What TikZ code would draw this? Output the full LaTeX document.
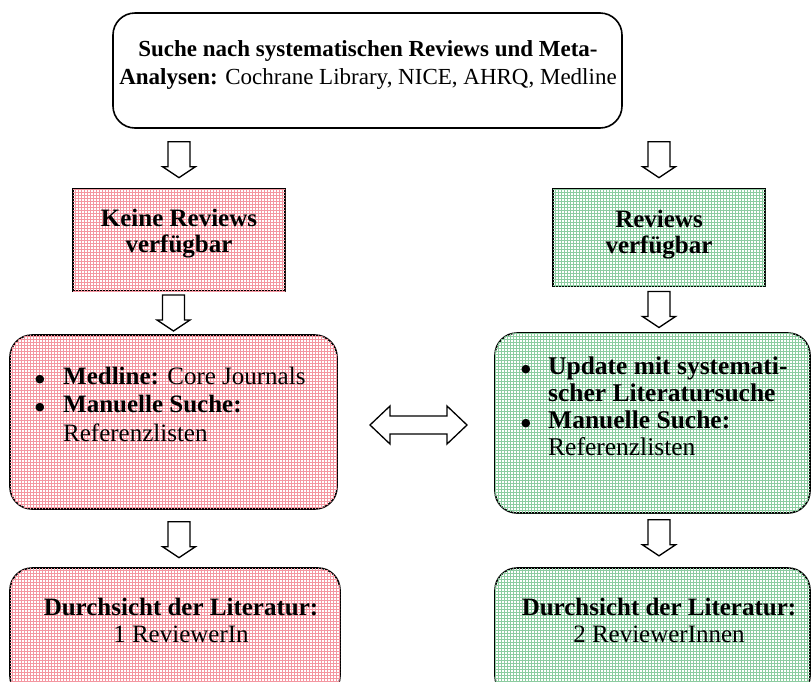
\documentclass[tikz,border=0pt]{standalone}
\usepackage{fontspec}
\setmainfont{Liberation Serif}
\newfontfamily\symfont{DejaVu Sans}
\usetikzlibrary{patterns,calc}

\definecolor{pinkgrid}{RGB}{244,150,160}
\definecolor{greengrid}{RGB}{140,204,160}

% hollow block arrow pointing down, centred on a coordinate
\newcommand\downblock[1]{%
  \draw[arrowline] ($(#1)+(-11,-18)$) -- ($(#1)+(11,-18)$) -- ($(#1)+(11,7)$)
    -- ($(#1)+(16.5,7)$) -- ($(#1)+(0,18)$) -- ($(#1)+(-16.5,7)$)
    -- ($(#1)+(-11,7)$) -- cycle;}
% hollow double-headed block arrow, horizontal
\newcommand\sideblock[1]{%
  \draw[arrowline] ($(#1)+(-48.5,0)$) -- ($(#1)+(-28.5,-19)$) -- ($(#1)+(-28.5,-9)$)
    -- ($(#1)+(28.5,-9)$) -- ($(#1)+(28.5,-19)$) -- ($(#1)+(48.5,0)$)
    -- ($(#1)+(28.5,19)$) -- ($(#1)+(28.5,9)$) -- ($(#1)+(-28.5,9)$)
    -- ($(#1)+(-28.5,19)$) -- cycle;}
% list bullet
\newcommand\bigbullet{\raisebox{2pt}{\symfont\fontsize{11}{11}\selectfont ●}}

\begin{document}
\begin{tikzpicture}[x=1pt,y=-1pt,
  boxline/.style={draw=black, line width=1.6pt, inner sep=0},
  roundbox/.style={boxline, rounded corners=22pt},
  squarebox/.style={boxline},
  redfill/.style={fill=white, postaction={pattern=grid, pattern color=pinkgrid}},
  greenfill/.style={fill=white, postaction={pattern=grid, pattern color=greengrid}},
  arrowline/.style={draw=black, fill=white, line width=1.3pt, line join=miter},
  txt/.style={inner sep=0, align=center, font=\fontsize{23}{28}\selectfont},
  listtxt/.style={inner sep=0, anchor=base west, align=left},
]
\useasboundingbox (0,0) rectangle (812,681);
\clip (0,0) rectangle (812,681);

% boxes
\node[roundbox, fill=white, minimum width=509pt, minimum height=115pt] (top) at (367.5,70.5) {};
\node[squarebox, redfill, minimum width=212pt, minimum height=102pt] (none) at (179,240) {};
\node[squarebox, greenfill, minimum width=212pt, minimum height=97pt] (avail) at (659,237.5) {};
\node[roundbox, redfill, minimum width=327pt, minimum height=174pt] (med) at (173.5,422) {};
\node[roundbox, greenfill, minimum width=315pt, minimum height=180pt] (upd) at (652.5,423) {};
\node[roundbox, redfill, minimum width=330pt, minimum height=130pt] (revone) at (175,633) {};
\node[roundbox, greenfill, minimum width=315pt, minimum height=130pt] (revtwo) at (652.5,633) {};

% texts
\node[txt] (toptext) at (368,65)
  {\textbf{Suche nach systematischen Reviews und Meta-}\\
   \textbf{Analysen:} Cochrane Library, NICE, AHRQ, Medline};
\node[txt, font=\fontsize{25}{26}\selectfont\bfseries] (nonetext) at (179,234)
  {Keine Reviews\\verfügbar};
\node[txt, font=\fontsize{25}{26}\selectfont\bfseries] (availtext) at (659,235)
  {Reviews\\verfügbar};
\node[listtxt] (medtext) at (35,384)
  {\fontsize{25}{28.5}\selectfont
   \begin{tabular}[t]{@{}p{28pt}@{}l@{}}
   \bigbullet & \textbf{Medline:} Core Journals\\
   \bigbullet & \textbf{Manuelle Suche:}\\
              & Referenzlisten
   \end{tabular}};
\node[listtxt] (updtext) at (521,374)
  {\fontsize{25.5}{27}\selectfont
   \begin{tabular}[t]{@{}p{27pt}@{}l@{}}
   \bigbullet & \textbf{Update mit systemati-}\\
              & \textbf{scher Literatursuche}\\
   \bigbullet & \textbf{Manuelle Suche:}\\
              & Referenzlisten
   \end{tabular}};
\node[txt, font=\fontsize{25}{27}\selectfont] (revonetext) at (181,620)
  {\textbf{Durchsicht der Literatur:}\\1 ReviewerIn};
\node[txt, font=\fontsize{25}{27}\selectfont] (revtwotext) at (659,620)
  {\textbf{Durchsicht der Literatur:}\\2 ReviewerInnen};

% connectors
\coordinate (a1) at ($(top.south -| none.north)!0.52!(none.north)$);
\coordinate (a2) at ($(top.south -| avail.north)!0.52!(avail.north)$);
\coordinate (a3) at ($(none.south -| med.north)!0.5!(med.north)$);
\coordinate (a4) at ($(avail.south -| avail.north)!0.5!(upd.north -| avail.north)$);
\coordinate (a5) at ($(med.south -| none.north)!0.52!(revone.north -| none.north)$);
\coordinate (a6) at ($(upd.south -| avail.north)!0.45!(revtwo.north -| avail.north)$);
\coordinate (dbl) at ($(med.east)!0.5!(upd.west)+(2.5,2.5)$);
\downblock{a1}
\downblock{a2}
\downblock{a3}
\downblock{a4}
\downblock{a5}
\downblock{a6}
\sideblock{dbl}
\end{tikzpicture}
\end{document}
